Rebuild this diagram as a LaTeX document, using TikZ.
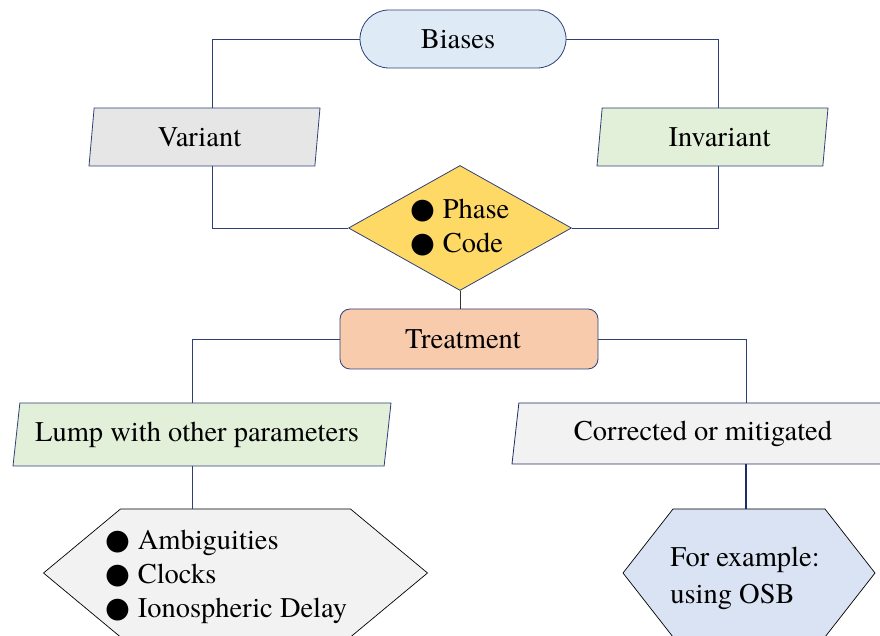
\documentclass[tikz,border=0pt]{standalone}
\usepackage{fontspec}
\IfFontExistsTF{texgyretermes-regular.otf}
  {\setmainfont{texgyretermes}[Extension=.otf, UprightFont=*-regular]}
  {\setmainfont{Liberation Serif}}
\newfontfamily\bulletface{DejaVu Sans}
\usetikzlibrary{shapes.geometric, shapes.misc, calc, backgrounds}

\definecolor{navy}{RGB}{47,64,120}
\definecolor{darknavy}{RGB}{31,45,100}
\definecolor{bluefill}{RGB}{222,235,247}
\definecolor{grayfill}{RGB}{231,230,230}
\definecolor{greenfill}{RGB}{226,240,217}
\definecolor{goldfill}{RGB}{255,217,102}
\definecolor{peachfill}{RGB}{248,203,173}
\definecolor{lightgray}{RGB}{242,242,242}
\definecolor{hexblue}{RGB}{218,227,243}

\newcommand{\bul}{{\bulletface ●}\ }

\begin{document}
\begin{tikzpicture}[x=1pt, y=1pt,
    every node/.style={font=\fontsize{28.5}{34}\selectfont, inner sep=0pt},
    box/.style={draw=navy, line width=0.8pt},
    slanted/.style={box, trapezium, trapezium left angle=75,
                    trapezium right angle=105, trapezium stretches body,
                    minimum height=58},
    link/.style={navy, line width=0.8pt}]
  \useasboundingbox (0,0) rectangle (880,636);

  % Top level
  \node[box, rounded rectangle, fill=bluefill, minimum width=206,
        minimum height=58] (biases) at (463,597) {Biases\hspace*{10pt}};
  \node[slanted, fill=grayfill, minimum width=231] (variant) at (204.5,499)
    {Variant\hspace*{10pt}};
  \node[slanted, fill=greenfill, minimum width=231] (invariant) at (712.5,499)
    {\hspace*{14pt}Invariant};

  % Kinds of bias
  \node[box, diamond, fill=goldfill, aspect=1.78, minimum width=223,
        minimum height=125, align=left] (phase) at (460,408)
    {\bul Phase\\\bul Code};

  % Treatment and its two branches
  \node[box, rounded corners=10pt, fill=peachfill, minimum width=258,
        minimum height=60] (treat) at (469,297) {Treatment\hspace*{12pt}};
  \node[slanted, fill=greenfill, minimum width=378, minimum height=63]
    (lump) at (202,201.5) {Lump with other parameters\hspace*{10pt}};
  \node[slanted, draw=darknavy, fill=lightgray, minimum width=382, minimum height=61]
    (corr) at (703,202.5) {Corrected or mitigated};

  % Hexagons (outline drawn behind, shifted to the text)
  \node[minimum width=384, minimum height=128, align=left] (amb) at (226.5,59)
    {\bul Ambiguities\\\bul Clocks\\\bul Ionospheric Delay};
  \node[minimum width=252, minimum height=128, align=left,
        font=\fontsize{28.5}{37}\selectfont] (osb) at (745,58)
    {For example:\\using OSB};
  \begin{scope}[on background layer]
    \foreach \n/\w/\d/\c/\sx/\sy in {amb/192/77/lightgray/9/4, osb/126/50/hexblue/4/5} {
      \draw[fill=\c, line width=0.7pt]
        ($(\n.center)+(\sx-\w,\sy)$) -- ++(\d,64) -- ++(2*\w-2*\d,0)
        -- ++(\d,-64) -- ++(-\d,-64) -- ++(-2*\w+2*\d,0) -- cycle;
      \coordinate (\n-top) at ($(\n.center)+(\sx,\sy+64)$);
    }
  \end{scope}

  % Connectors
  \draw[link] (biases.west) -| ([xshift=7.5pt]variant.north);
  \draw[link] (biases.east) -| ([xshift=5.5pt]invariant.north);
  \draw[link] ([xshift=7.5pt]variant.south) |- (phase.west);
  \draw[link] ([xshift=5.5pt]invariant.south) |- (phase.east);
  \draw[line width=0.8pt, black!80] (phase.south) -- (phase.south |- treat.north);
  \draw[link] (treat.west) -| ([xshift=-10pt]lump.north);
  \draw[link] (treat.east) -| ([xshift=43pt]corr.north);
  \draw[link] ([xshift=-10pt]lump.south) -- ([xshift=-10pt]lump.south |- amb-top);
  \draw[darknavy, line width=1.6pt] ([xshift=43pt]corr.south)
    -- ([xshift=43pt]corr.south |- osb-top);
\end{tikzpicture}
\end{document}
